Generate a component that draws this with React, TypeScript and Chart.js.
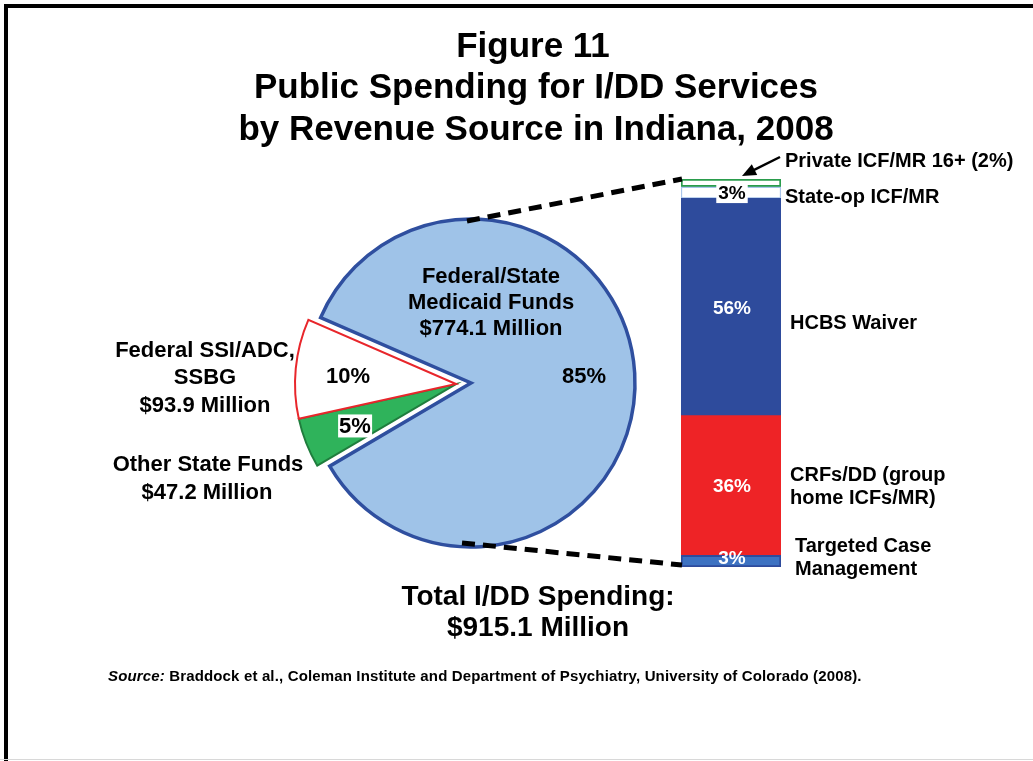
import React, { useEffect, useRef } from "react";
import { Chart, registerables } from "chart.js";

Chart.register(...registerables);

// ---------------- data ----------------
const pieCategories = ["Other State Funds", "Federal SSI/ADC, SSBG", "Federal/State Medicaid Funds"];
const pieShares = [5, 10, 85];
const pieAmounts = ["$47.2 Million", "$93.9 Million", "$774.1 Million"];
const pieExploded = [true, true, false];

const barCategories = [
  "Targeted Case Management",
  "CRFs/DD (group home ICFs/MR)",
  "HCBS Waiver",
  "State-op ICF/MR",
  "Private ICF/MR 16+",
];
const barShares = [3, 36, 56, 3, 2];
const barLabels = ["3%", "36%", "56%", "3%", ""];

const titleLines = ["Figure 11", "Public Spending for I/DD Services", "by Revenue Source in Indiana, 2008"];
const totalLines = ["Total I/DD Spending:", "$915.1 Million"];

// ---------------- styles ----------------
const FONT = '"Liberation Sans", Arial, Helvetica, sans-serif';
const PIE_CX = 471;
const PIE_CY = 383;
const PIE_R = 164;
const PIE_R_SMALL = 161;
const PIE_BOX = 400;
const PIE_ROTATION = 239.5;
const EXPLODE = 15;

const pieFill = ["#2fb35b", "#ffffff", "#9fc3e8"];
const pieBorder = ["#1f7d3d", "#e8262b", "#2f4f9f"];

const barFill = ["#3d72c2", "#ee2326", "#2e4b9c", "#ffffff", "#ffffff"];
const barBorder = ["#2e4b9c", "#ee2326", "#2e4b9c", "#a9c5ea", "#2a9c4c"];
const barBorderW = [2, 0, 0, 1.5, 2];
const barLabelColor = ["#ffffff", "#ffffff", "#ffffff", "#000000", "#000000"];
const barLabelBox = [false, false, false, true, false];

const BAR_LEFT = 671;
const BAR_TOP = 169;
const BAR_W = 120;
const BAR_H = 410;
const BAR_PAD = { left: 10, right: 10, top: 10, bottom: 12 };

type TextProps = {
  x: number;
  y: number;
  text: string;
  size: number;
  align?: "center" | "left";
  color?: string;
  bg?: string;
  italicPrefix?: string;
  weight?: number;
  spacing?: number;
};

function T({ x, y, text, size, align = "center", color = "#000", bg, italicPrefix, weight = 700, spacing }: TextProps) {
  return (
    <div
      style={{
        position: "absolute",
        left: x,
        top: y,
        transform: align === "center" ? "translate(-50%, -50%)" : "translate(0, -50%)",
        fontFamily: FONT,
        fontWeight: weight,
        fontSize: size,
        lineHeight: 1.05,
        letterSpacing: spacing,
        color,
        whiteSpace: "nowrap",
        background: bg,
        padding: bg ? "0 1px" : 0,
      }}
    >
      {italicPrefix ? <i>{italicPrefix}</i> : null}
      {text}
    </div>
  );
}

function explodeOffset() {
  // mid angle of the exploded group (clockwise from 12 o'clock)
  const total = pieShares.reduce((a, b) => a + b, 0);
  let acc = 0;
  let s = 0;
  let e = 0;
  let first = true;
  pieShares.forEach((v, i) => {
    if (pieExploded[i]) {
      if (first) {
        s = acc;
        first = false;
      }
      e = acc + v;
    }
    acc += v;
  });
  const mid = PIE_ROTATION + (((s + e) / 2) / total) * 360;
  const rad = ((mid - 90) * Math.PI) / 180;
  return { dx: EXPLODE * Math.cos(rad), dy: EXPLODE * Math.sin(rad) };
}

export default function App() {
  const pieARef = useRef<HTMLCanvasElement>(null);
  const pieBRef = useRef<HTMLCanvasElement>(null);
  const barRef = useRef<HTMLCanvasElement>(null);
  const overRef = useRef<HTMLCanvasElement>(null);
  const off = explodeOffset();

  useEffect(() => {
    const mkPie = (canvas: HTMLCanvasElement, show: (i: number) => boolean, radius: number) =>
      new Chart(canvas, {
        type: "pie",
        data: {
          labels: pieCategories,
          datasets: [
            {
              data: pieShares,
              backgroundColor: pieFill.map((c, i) => (show(i) ? c : "rgba(0,0,0,0)")),
              borderColor: pieBorder.map((c, i) => (show(i) ? c : "rgba(0,0,0,0)")),
              borderWidth: pieShares.map((_, i) => (show(i) ? (i === 2 ? 3.5 : 2) : 0)),
              borderJoinStyle: "miter",
            } as any,
          ],
        },
        options: {
          animation: false,
          responsive: false,
          devicePixelRatio: 1,
          rotation: PIE_ROTATION,
          radius,
          events: [],
          layout: { padding: 0 },
          plugins: { legend: { display: false }, tooltip: { enabled: false } },
        } as any,
      });
    const pieA = mkPie(pieARef.current!, (i) => !pieExploded[i], PIE_R);
    const pieB = mkPie(pieBRef.current!, (i) => pieExploded[i], PIE_R_SMALL);

    const labelPlugin = {
      id: "segLabels",
      afterDatasetsDraw(chart: any) {
        const ctx = chart.ctx as CanvasRenderingContext2D;
        ctx.save();
        ctx.font = `bold 19px ${FONT}`;
        ctx.textAlign = "center";
        ctx.textBaseline = "middle";
        chart.data.datasets.forEach((_: any, di: number) => {
          const txt = barLabels[di];
          if (!txt) return;
          const el = chart.getDatasetMeta(di).data[0];
          const cx = el.x + 1;
          let cy = (el.y + el.base) / 2 + 0.5;
          // keep label inside the bar
          cy = Math.min(cy, chart.chartArea.bottom - 9);
          if (barLabelBox[di]) {
            const w = ctx.measureText(txt).width + 4;
            ctx.fillStyle = "#ffffff";
            ctx.fillRect(cx - w / 2, cy - 9, w, 19);
          }
          ctx.fillStyle = barLabelColor[di];
          ctx.fillText(txt, cx, cy + 1);
        });
        ctx.restore();
      },
    };

    const bar = new Chart(barRef.current!, {
      type: "bar",
      data: {
        labels: [""],
        datasets: barCategories.map((c, i) => ({
          label: c,
          data: [barShares[i]],
          backgroundColor: barFill[i],
          borderColor: barBorder[i],
          borderWidth: barBorderW[i],
          borderSkipped: false,
          barPercentage: 1,
          categoryPercentage: 1,
        })) as any,
      },
      options: {
        animation: false,
        responsive: false,
        devicePixelRatio: 1,
        events: [],
        layout: { padding: BAR_PAD },
        scales: {
          x: { stacked: true, display: false },
          y: { stacked: true, display: false, min: 0, max: 100 },
        },
        plugins: { legend: { display: false }, tooltip: { enabled: false } },
      } as any,
      plugins: [labelPlugin],
    });

    // connectors drawn from the charts' own geometry
    const over = overRef.current!;
    const octx = over.getContext("2d")!;
    octx.clearRect(0, 0, over.width, over.height);
    const arc: any = pieA.getDatasetMeta(0).data[2];
    const pcx = PIE_CX - PIE_BOX / 2 + arc.x;
    const pcy = PIE_CY - PIE_BOX / 2 + arc.y;
    const pr = arc.outerRadius;
    const ca = bar.chartArea;
    const bl = BAR_LEFT + ca.left;
    const bt = BAR_TOP + ca.top;
    const bb = BAR_TOP + ca.bottom;
    octx.save();
    octx.strokeStyle = "#000";
    octx.lineWidth = 5;
    octx.setLineDash([13, 8]);
    octx.beginPath();
    octx.moveTo(pcx - 4, pcy - pr + 2);
    octx.lineTo(bl + 1, bt);
    octx.moveTo(pcx - 9, pcy + pr - 4);
    octx.lineTo(bl + 1, bb - 2);
    octx.stroke();
    octx.restore();

    // arrow to the small top segment
    const topEl: any = bar.getDatasetMeta(4).data[0];
    const tipX = BAR_LEFT + topEl.x + 11;
    const tipY = BAR_TOP + topEl.y - 3;
    const tailX = tipX + 38;
    const tailY = tipY - 19;
    const ang = Math.atan2(tipY - tailY, tipX - tailX);
    octx.save();
    octx.strokeStyle = "#000";
    octx.fillStyle = "#000";
    octx.lineWidth = 2.5;
    octx.beginPath();
    octx.moveTo(tailX, tailY);
    octx.lineTo(tipX - 8 * Math.cos(ang), tipY - 8 * Math.sin(ang));
    octx.stroke();
    const hl = 14;
    const hw = 6;
    octx.beginPath();
    octx.moveTo(tipX, tipY);
    octx.lineTo(tipX - hl * Math.cos(ang) + hw * Math.sin(ang), tipY - hl * Math.sin(ang) - hw * Math.cos(ang));
    octx.lineTo(tipX - hl * Math.cos(ang) - hw * Math.sin(ang), tipY - hl * Math.sin(ang) + hw * Math.cos(ang));
    octx.closePath();
    octx.fill();
    octx.restore();

    return () => {
      pieA.destroy();
      pieB.destroy();
      bar.destroy();
    };
  }, []);

  return (
    <div
      style={{
        position: "fixed",
        left: 0,
        top: 0,
        width: 1033,
        height: 761,
        background: "#fff",
        overflow: "hidden",
        fontFamily: FONT,
      }}
    >
      <div
        style={{
          position: "absolute",
          left: 4,
          top: 4,
          width: 1060,
          height: 800,
          borderTop: "4px solid #000",
          borderLeft: "4px solid #000",
        }}
      />
      <div style={{ position: "absolute", left: 0, top: 759, width: 1033, height: 1, background: "#d8d8d8" }} />

      <canvas
        ref={pieARef}
        width={PIE_BOX}
        height={PIE_BOX}
        style={{ position: "absolute", left: PIE_CX - PIE_BOX / 2, top: PIE_CY - PIE_BOX / 2 }}
      />
      <canvas
        ref={pieBRef}
        width={PIE_BOX}
        height={PIE_BOX}
        style={{ position: "absolute", left: PIE_CX - PIE_BOX / 2 + off.dx, top: PIE_CY - PIE_BOX / 2 + off.dy }}
      />
      <canvas
        ref={barRef}
        width={BAR_W}
        height={BAR_H}
        style={{ position: "absolute", left: BAR_LEFT, top: BAR_TOP }}
      />
      <canvas
        ref={overRef}
        width={1033}
        height={761}
        style={{ position: "absolute", left: 0, top: 0, pointerEvents: "none" }}
      />

      {/* title */}
      <T x={533} y={45} text={titleLines[0]} size={35} />
      <T x={536} y={86} text={titleLines[1]} size={35} />
      <T x={536} y={128} text={titleLines[2]} size={35} />

      {/* pie labels */}
      <T x={491} y={276} text="Federal/State" size={22} />
      <T x={491} y={302} text="Medicaid Funds" size={22} />
      <T x={491} y={328} text={pieAmounts[2]} size={22} />
      <T x={584} y={376} text={`${pieShares[2]}%`} size={22} />
      <T x={348} y={376} text={`${pieShares[1]}%`} size={22} />
      <T x={355} y={426} text={`${pieShares[0]}%`} size={22} bg="#fff" />

      <T x={205} y={350} text="Federal SSI/ADC," size={22} />
      <T x={205} y={377} text="SSBG" size={22} />
      <T x={205} y={405} text={pieAmounts[1]} size={22} />
      <T x={208} y={464} text="Other State Funds" size={22} />
      <T x={207} y={492} text={pieAmounts[0]} size={22} />

      {/* bar labels */}
      <T x={785} y={160} text={`${barCategories[4]} (${barShares[4]}%)`} size={20} align="left" />
      <T x={785} y={196} text={barCategories[3]} size={20} align="left" />
      <T x={790} y={322} text={barCategories[2]} size={20} align="left" />
      <T x={790} y={474} text="CRFs/DD (group" size={20} align="left" />
      <T x={790} y={497} text="home ICFs/MR)" size={20} align="left" />
      <T x={795} y={545} text="Targeted Case" size={20} align="left" />
      <T x={795} y={568} text="Management" size={20} align="left" />

      {/* total */}
      <T x={538} y={596} text={totalLines[0]} size={28} />
      <T x={538} y={627} text={totalLines[1]} size={28} />

      {/* source */}
      <T
        x={108}
        y={676}
        italicPrefix="Source:"
        text=" Braddock et al., Coleman Institute and Department of Psychiatry, University of Colorado (2008)."
        size={15}
        spacing={0.15}
        align="left"
      />
    </div>
  );
}
